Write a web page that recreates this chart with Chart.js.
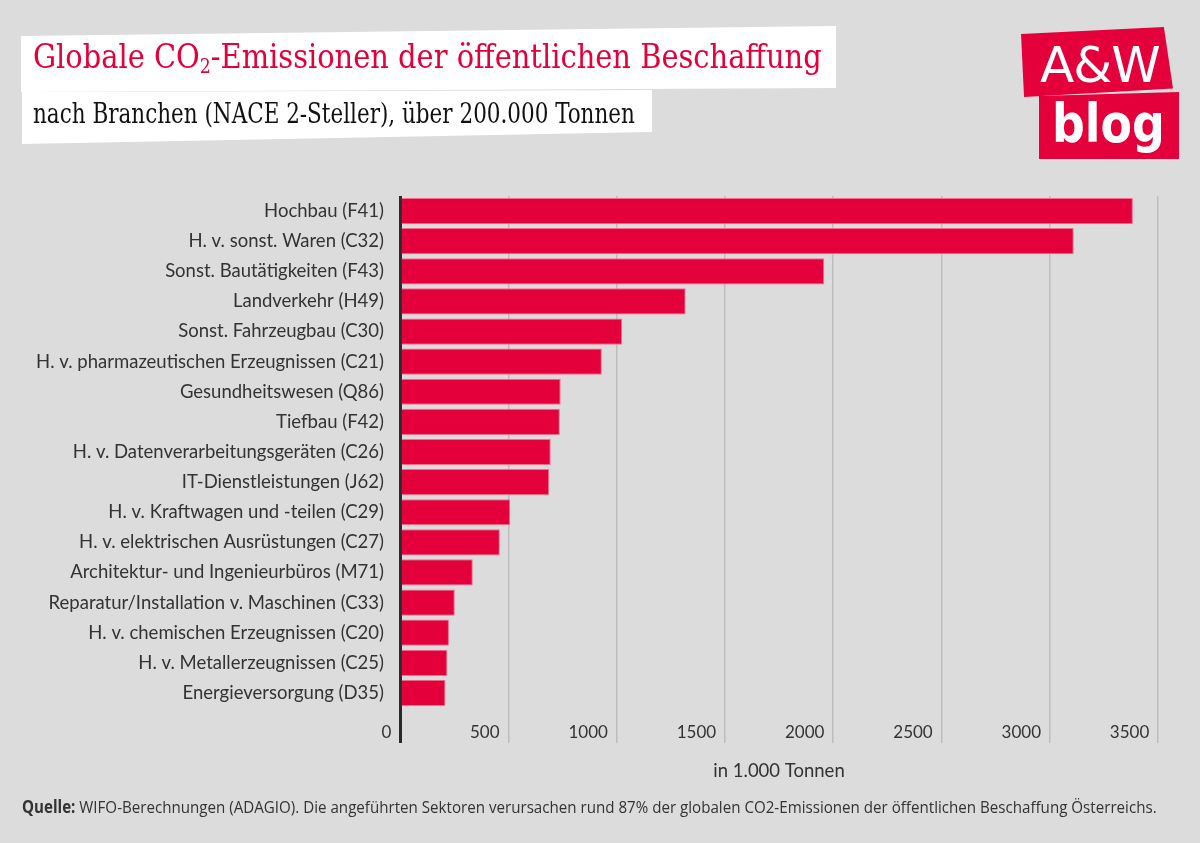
<!DOCTYPE html>
<html lang="de">
<head>
<meta charset="utf-8">
<title>Globale CO2-Emissionen der öffentlichen Beschaffung</title>
<script src="https://cdn.jsdelivr.net/npm/chart.js@4/dist/chart.umd.min.js"></script>
<style>
  html, body { margin: 0; padding: 0; }
  body { width: 1200px; height: 843px; background: #dcdcdc; position: relative; overflow: hidden; font-family: Lato, "Open Sans", sans-serif; }
  #wrap { position: absolute; left: 0; top: 0; width: 1200px; height: 843px; }
  .box { position: absolute; background: #fff; }
  #titleBox { left: 21px; top: 26px; width: 815px; height: 66px; clip-path: polygon(0 10px, 100% 0, 100% 62px, 0 100%); }
  #subBox { left: 22px; top: 90px; width: 630px; height: 54px; clip-path: polygon(0 2px, 100% 0, 100% 42px, 0 100%); }
  .txt { position: absolute; white-space: nowrap; transform-origin: 0 50%; }
  #title { left: 33px; top: 36px; color: #e4003a; font-family: "DejaVu Serif", serif; font-stretch: condensed; font-size: 34px; }
  #title sub { font-size: 0.6em; vertical-align: -0.25em; }
  #subtitle { left: 33px; top: 98px; color: #111; font-family: "DejaVu Serif", serif; font-stretch: condensed; font-size: 27px; }
  .logo { position: absolute; background: #e4003a; color: #fff; }
  #logo1 { left: 1021px; top: 27px; width: 152px; height: 70px; clip-path: polygon(0 7px, 94% 0, 100% 88%, 2% 100%); }
  #logo2 { left: 1039px; top: 92px; width: 140px; height: 67px; clip-path: polygon(0 4px, 100% 0, 100% 100%, 0 100%); }
  #logoA { left: 1040px; top: 36px; font-family: "DejaVu Sans", sans-serif; font-size: 50px; color: #fff; letter-spacing: -1px; }
  #logoB { left: 1052px; top: 92px; font-family: "DejaVu Sans", sans-serif; font-weight: bold; font-size: 54px; color: #fff; }
  #source { left: 22px; top: 795px; color: #333; font-family: "Liberation Sans Narrow", "Open Sans", sans-serif; font-size: 17px; }
</style>
</head>
<body>
<div id="wrap"><canvas id="chart"></canvas></div>
<div class="box" id="titleBox"></div>
<div class="box" id="subBox"></div>
<div class="txt" id="title">Globale CO<sub>2</sub>-Emissionen der öffentlichen Beschaffung</div>
<div class="txt" id="subtitle">nach Branchen (NACE 2-Steller), über 200.000 Tonnen</div>
<div class="logo" id="logo1"></div>
<div class="logo" id="logo2"></div>
<div class="txt" id="logoA">A&amp;W</div>
<div class="txt" id="logoB">blog</div>
<div class="txt" id="source"><b>Quelle:</b> WIFO-Berechnungen (ADAGIO). Die angeführten Sektoren verursachen rund 87% der globalen CO2-Emissionen der öffentlichen Beschaffung Österreichs.</div>
<script>
var branchen = [
  "Hochbau (F41)",
  "H. v. sonst. Waren (C32)",
  "Sonst. Bautätigkeiten (F43)",
  "Landverkehr (H49)",
  "Sonst. Fahrzeugbau (C30)",
  "H. v. pharmazeutischen Erzeugnissen (C21)",
  "Gesundheitswesen (Q86)",
  "Tiefbau (F42)",
  "H. v. Datenverarbeitungsgeräten (C26)",
  "IT-Dienstleistungen (J62)",
  "H. v. Kraftwagen und -teilen (C29)",
  "H. v. elektrischen Ausrüstungen (C27)",
  "Architektur- und Ingenieurbüros (M71)",
  "Reparatur/Installation v. Maschinen (C33)",
  "H. v. chemischen Erzeugnissen (C20)",
  "H. v. Metallerzeugnissen (C25)",
  "Energieversorgung (D35)"
];
var emissionen = [3384, 3111, 1959, 1319, 1026, 932, 742, 738, 696, 688, 509, 461, 336, 253, 226, 219, 210];
var xMax = 3500;
var xStep = 500;
var achsenTitel = "in 1.000 Tonnen";

// squeeze the overlay texts to the widths in the picture
function fit(id, w) {
  var el = document.getElementById(id);
  el.style.transform = "scaleX(" + (w / el.offsetWidth) + ")";
}

document.addEventListener('DOMContentLoaded', function() {
  fit("title", 789);
  fit("subtitle", 602);
  fit("source", 1135);
  fit("logoA", 120);
  fit("logoB", 113);

  var ctx = document.getElementById("chart").getContext('2d');
  new Chart(ctx, {
    type: 'bar',
    data: {
      labels: branchen,
      datasets: [{
        data: emissionen,
        backgroundColor: "#e4003a",
        borderColor: "rgba(245,110,140,1)",
        borderWidth: 1,
        barPercentage: 0.87,
        categoryPercentage: 1
      }]
    },
    options: {
      indexAxis: 'y',
      responsive: true,
      maintainAspectRatio: false,
      animation: false,
      layout: { padding: { top: 196, right: 42, bottom: 0, left: 0 } },
      plugins: { legend: { display: false }, tooltip: { enabled: false } },
      scales: {
        x: {
          min: 0,
          max: xMax,
          afterFit: function(s) { s.height = 135; },
          border: { display: false },
          grid: {
            color: function(c) { return c.tick && c.tick.value === 0 ? '#2a2a2a' : '#bdbdbd'; },
            lineWidth: function(c) { return c.tick && c.tick.value === 0 ? 3 : 1.5; },
            tickLength: 35,
            tickColor: function(c) { return c.tick && c.tick.value === 0 ? '#2a2a2a' : '#bdbdbd'; },
            tickWidth: function(c) { return c.tick && c.tick.value === 0 ? 3 : 1.5; }
          },
          ticks: {
            stepSize: xStep,
            align: 'end',
            padding: -21,
            color: '#333',
            font: { family: 'Lato', size: 17 },
            callback: function(v) { return v + '  '; }
          },
          title: {
            display: true,
            text: achsenTitel,
            color: '#333',
            font: { family: 'Lato', size: 18.5 },
            padding: { top: 0, bottom: 61 }
          }
        },
        y: {
          afterFit: function(s) { s.width = 400; },
          border: { display: false },
          grid: { display: false, drawTicks: false },
          ticks: {
            padding: 16,
            color: '#333',
            font: { family: 'Lato', size: 18.5 }
          }
        }
      }
    }
  });
}, false);
</script>
</body>
</html>
